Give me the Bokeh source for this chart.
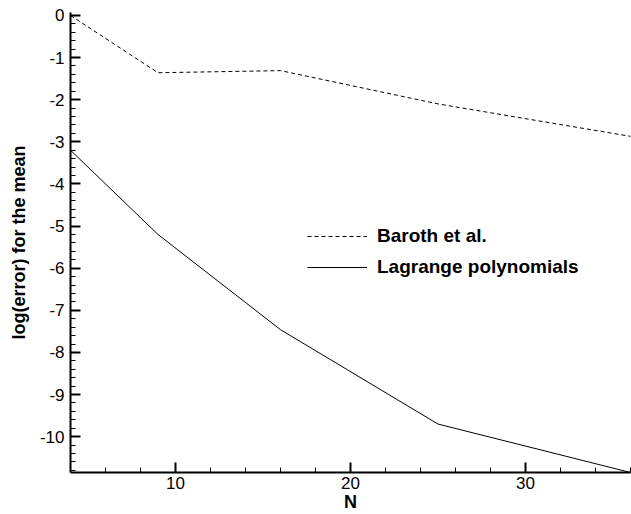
from bokeh.plotting import figure
from bokeh.models import Range1d, Legend, LegendItem, FixedTicker, CustomJSTickFormatter
from bokeh.embed import file_html
from bokeh.resources import INLINE

N = [4, 9, 16, 25, 36]
baroth = [0.0, -1.36, -1.31, -2.1, -2.87]
lagrange = [-3.2, -5.2, -7.46, -9.7, -10.85]

x_major = [10, 20, 30]
x_minor = [6, 8, 12, 14, 16, 18, 22, 24, 26, 28, 32, 34, 36]
y_major = [0, -1, -2, -3, -4, -5, -6, -7, -8, -9, -10]
y_minor = [round(-0.2 * i, 1) for i in range(0, 55)]

FONT = "Liberation Sans"

p = figure(width=631, height=514, output_backend="svg", toolbar_location=None,
           x_range=Range1d(4, 36), y_range=Range1d(-10.85, 0.07),
           min_border_left=70, min_border_right=1, min_border_top=12, min_border_bottom=41)
p.outline_line_color = None
p.grid.visible = False
p.background_fill_color = "white"
p.border_fill_color = "white"

r1 = p.line(N, baroth, line_color="black", line_width=1, line_dash="4 3")
r2 = p.line(N, lagrange, line_color="black", line_width=1)

for ax, major, minor in ((p.xaxis[0], x_major, x_minor), (p.yaxis[0], y_major, y_minor)):
    ax.ticker = FixedTicker(ticks=major, minor_ticks=minor)
    ax.formatter = CustomJSTickFormatter(code="return String(Math.round(tick));")
    ax.major_tick_in = 10
    ax.major_tick_out = 0
    ax.minor_tick_in = 5
    ax.minor_tick_out = 0
    ax.axis_line_width = 2
    ax.major_tick_line_width = 2
    ax.minor_tick_line_width = 1
    ax.major_label_text_font = FONT
    ax.major_label_text_font_size = "17px"
    ax.major_label_text_color = "black"
    ax.axis_label_text_font = FONT
    ax.axis_label_text_font_style = "bold"
    ax.axis_label_text_font_size = "18px"
    ax.axis_label_text_color = "black"

p.xaxis.axis_label = "N"
p.xaxis.major_label_standoff = 4
p.xaxis.axis_label_standoff = 0
p.yaxis.axis_label = "log(error) for the mean"
p.yaxis.major_label_standoff = 6
p.yaxis.axis_label_standoff = 8

legend = Legend(items=[LegendItem(label="Baroth et al.", renderers=[r1]),
                       LegendItem(label="Lagrange polynomials", renderers=[r2])],
                location=(237, 194), border_line_color=None, background_fill_alpha=0,
                label_text_font=FONT, label_text_font_style="bold", label_text_font_size="19px",
                label_text_color="black",
                glyph_width=60, label_standoff=10, spacing=9)
p.add_layout(legend)

open("out.html", "w").write(file_html(p, INLINE))
